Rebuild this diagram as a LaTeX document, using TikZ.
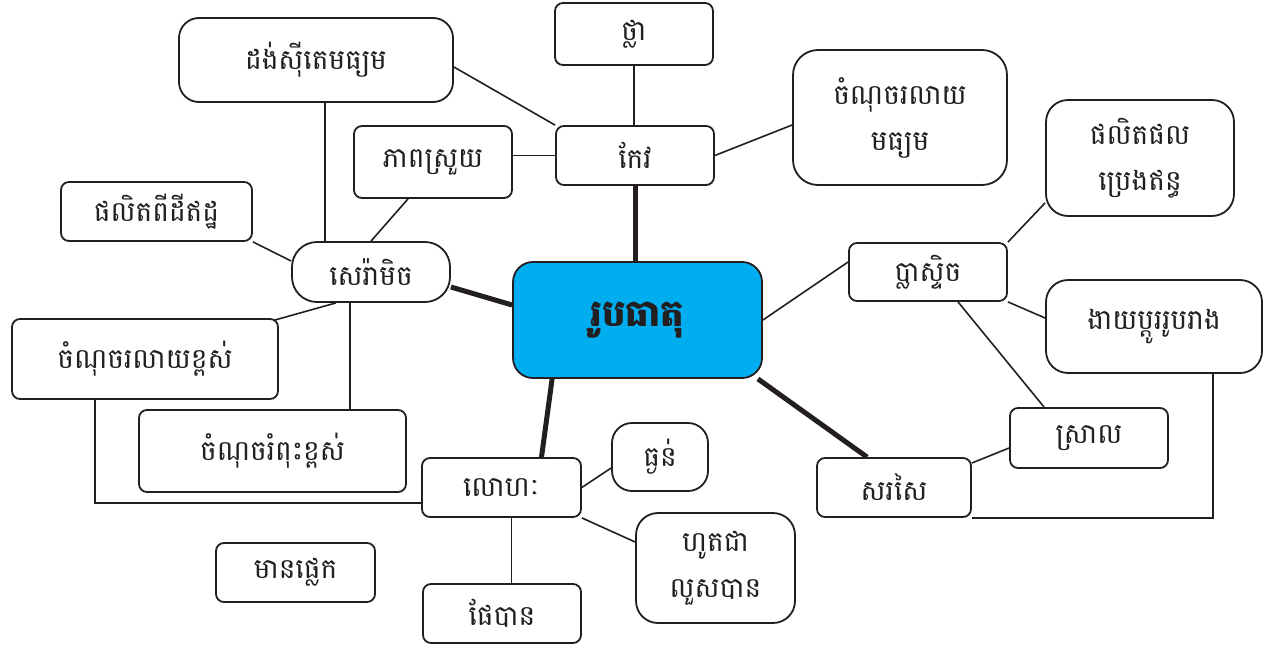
\documentclass[tikz,border=0pt]{standalone}
\usepackage{fontspec}
\newfontfamily\khmer[Script=Khmer]{Battambang}
\usetikzlibrary{calc,backgrounds}
\definecolor{edge}{HTML}{231F20}
\definecolor{cyanfill}{HTML}{00ADEF}
\tikzset{
 box/.style={draw=edge, line width=1.8pt, rounded corners=8pt, fill=white, inner sep=0pt, align=center, font=\khmer\fontsize{28}{46}\selectfont, text=edge},
 rbox/.style={box, rounded corners=22pt},
 thinline/.style={draw=edge, line width=1.6pt},
 thickline/.style={draw=edge, line width=5pt},
}
\begin{document}
\begin{tikzpicture}[x=1pt,y=-1pt]
\useasboundingbox (0,0) rectangle (1263,653);
\node[rbox, rounded corners=20pt, minimum width=274pt, minimum height=84pt] (dens) at (316,60) {ដង់ស៊ីតេមធ្យម};
\node[box, minimum width=158pt, minimum height=62pt] (thla) at (634,34) {ថ្លា};
\node[rbox, rounded corners=25pt, minimum width=214pt, minimum height=135pt] (crm) at (900,117.5) {ចំណុចរលាយ\\មធ្យម};
\node[box, minimum width=158pt, minimum height=72pt] (bhap) at (433,162) {ភាពស្រួយ};
\node[box, minimum width=158pt, minimum height=59pt] (kaev) at (635,155.5) {កែវ};
\node[rbox, minimum width=188pt, minimum height=116pt] (petr) at (1140,158) {ផលិតផល\\ប្រេងឥន្ធ};
\node[box, minimum width=191pt, minimum height=59pt] (phal) at (156.5,211.5) {ផលិតពីដីឥដ្ឋ};
\node[box, rounded corners=25pt, minimum width=158pt, minimum height=60pt] (sera) at (371,272) {សេរ៉ាមិច};
\node[box, rounded corners=20pt, fill=cyanfill, minimum width=249pt, minimum height=116pt, font=\khmer\bfseries\fontsize{37}{44}\selectfont] (rupa) at (637.5,320) {រូបធាតុ};
\node[box, minimum width=158pt, minimum height=58pt] (plas) at (928,272) {ប្លាស្ទិច};
\node[rbox, minimum width=216pt, minimum height=93pt] (easy) at (1154,326.5) {ងាយប្តូររូបរាង};
\node[box, minimum width=266pt, minimum height=80pt] (melt) at (145,359) {ចំណុចរលាយខ្ពស់};
\node[box, minimum width=267pt, minimum height=82pt] (boil) at (272.5,451) {ចំណុចរំពុះខ្ពស់};
\node[box, minimum width=158pt, minimum height=60pt] (light) at (1089,438) {ស្រាល};
\node[rbox, rounded corners=20pt, minimum width=96pt, minimum height=68pt] (dhng) at (660,457) {ធ្ងន់};
\node[box, minimum width=159pt, minimum height=59pt] (loha) at (501.5,487.5) {លោហៈ};
\node[box, minimum width=154pt, minimum height=59pt] (sars) at (894,487.5) {សរសៃ};
\node[rbox, minimum width=159pt, minimum height=110pt] (hout) at (715.5,568) {ហូតជា\\លួសបាន};
\node[box, minimum width=159pt, minimum height=59pt] (mean) at (295.5,572.5) {មានផ្លេក};
\node[box, minimum width=158pt, minimum height=59pt] (phae) at (502,613.5) {ផែបាន};
\begin{scope}[on background layer]
% central connections
\draw[thickline] (kaev.south) -- (kaev.south |- rupa.north);
\draw[thickline] ([yshift=-15pt]sera.east) -- ([yshift=15pt]rupa.west);
\draw[thickline] ([xshift=40pt]rupa.south west) -- ([xshift=40pt]loha.north);
\draw[thickline] ([xshift=-5pt]rupa.south east) -- ([xshift=51pt]sars.north west);
\draw[thinline] (rupa.east) -- ([yshift=10pt]plas.west);
% glass
\draw[thinline] (thla.south) -- (thla.south |- kaev.north);
\draw[thinline] ([yshift=-7pt]dens.east) -- (kaev.north west);
\draw[thinline] (kaev.west) -- ([xshift=-9pt]kaev.west -| bhap.east);
\draw[thinline] (kaev.east) -- ([yshift=-7.5pt]crm.west);
% ceramic
\draw[thinline] ([xshift=-46pt]sera.north) -- ([xshift=-46pt]sera.north |- dens.south);
\draw[thinline] (sera.north) -- ([xshift=-25pt]bhap.south);
\draw[thinline] (phal.south east) -- ([yshift=11pt]sera.west);
\draw[thinline] ([xshift=-35pt]sera.south) -- ([xshift=-15pt,yshift=-5pt]melt.north east);
\draw[thinline] ([xshift=-21pt]sera.south) -- ([xshift=-21pt]sera.south |- boil.north);
% metal
\draw[thinline] ([xshift=-50pt]melt.south) |- ([yshift=-15.5pt]loha.west);
\draw[thinline] (loha.east) -- ([yshift=-11pt]dhng.west);
\draw[thinline] (loha.south east) -- ([yshift=26pt]hout.west);
\draw[thinline] ([xshift=10pt]loha.south) -- ([xshift=10pt]loha.south |- phae.north);
% plastic
\draw[thinline] (plas.north east) -- ([yshift=14pt]petr.south west);
\draw[thinline] (plas.south east) -- ([yshift=8.5pt]easy.west);
\draw[thinline] ([xshift=30pt]plas.south) -- ([xshift=35pt]light.north west);
% fiber
\draw[thinline] ([yshift=24.5pt]sars.east) -- ([yshift=-10pt]light.west);
\draw[thinline] (sars.south east) -| ([xshift=59pt]easy.south);
\end{scope}
\end{tikzpicture}
\end{document}
